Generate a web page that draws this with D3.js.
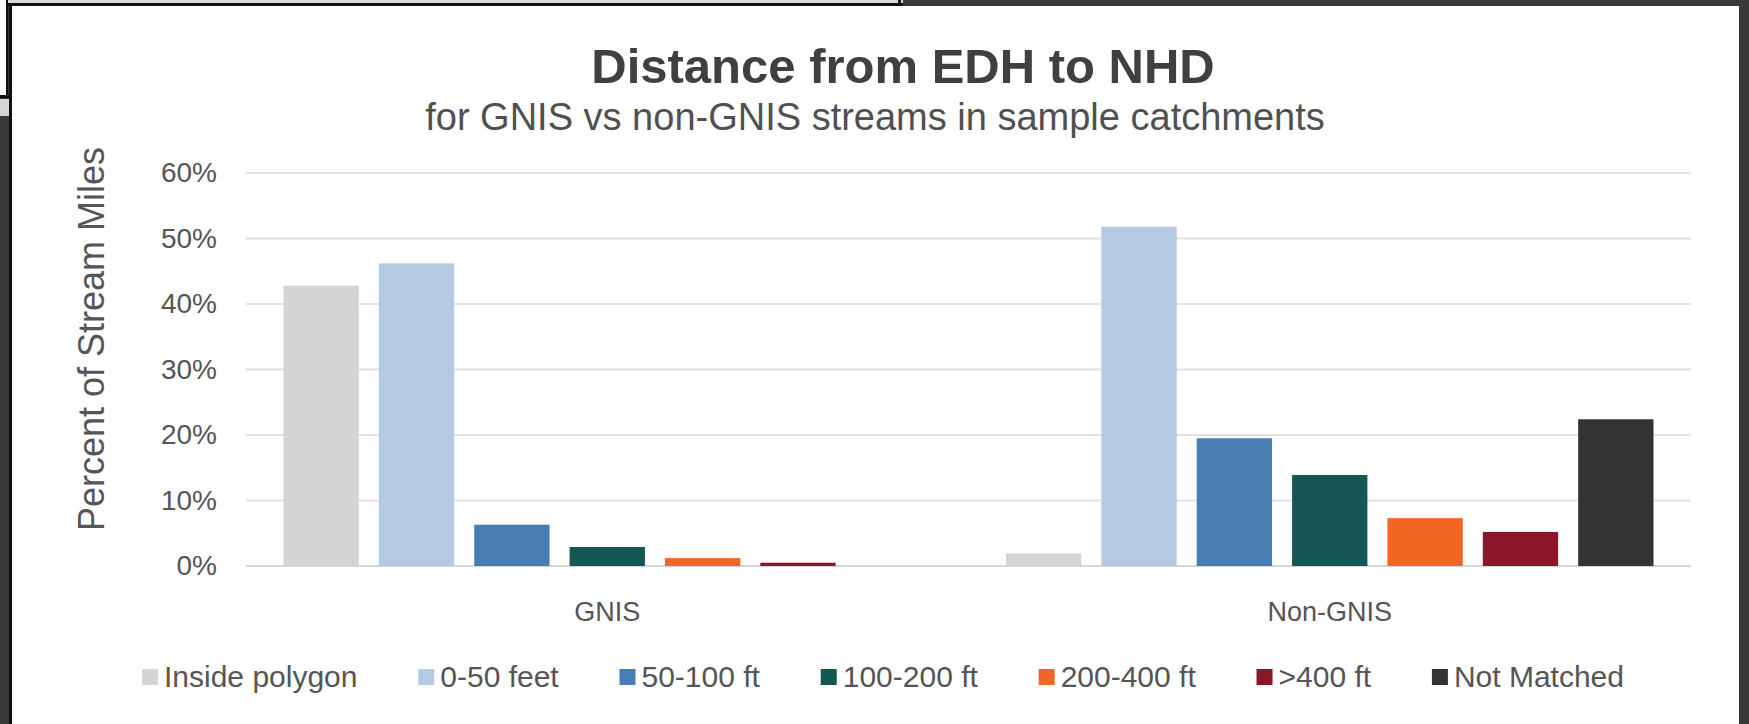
<!DOCTYPE html>
<html>
<head>
<meta charset="utf-8">
<script src="https://cdn.jsdelivr.net/npm/d3@7"></script>
<style>
  body { margin: 0; background: #3a3a3a; }
  svg { display: block; font-family: "Liberation Sans", Arial, sans-serif; }
</style>
</head>
<body>
<svg width="1749" height="724"></svg>
<script>
const categories = ["GNIS", "Non-GNIS"];
const seriesNames = ["Inside polygon", "0-50 feet", "50-100 ft", "100-200 ft", "200-400 ft", ">400 ft", "Not Matched"];
const gnisValues = [42.8, 46.2, 6.3, 2.9, 1.2, 0.5, 0];
const nonGnisValues = [1.9, 51.8, 19.5, 13.9, 7.3, 5.2, 22.4];
const yTicks = [0, 10, 20, 30, 40, 50, 60];
const colors = ["#d4d4d4", "#b4cae2", "#477db2", "#145753", "#f26522", "#8b1628", "#333333"];

const valuesByCategory = { "GNIS": gnisValues, "Non-GNIS": nonGnisValues };

const svg = d3.select("svg");

// screenshot frame around the chart
svg.append("rect").attr("x", 0).attr("y", 0).attr("width", 1749).attr("height", 724).attr("fill", "#3a3a3a");
svg.append("rect").attr("x", 0).attr("y", 0).attr("width", 903).attr("height", 6).attr("fill", "#d8d8d8");
svg.append("rect").attr("x", 0).attr("y", 3).attr("width", 903).attr("height", 3).attr("fill", "#111");
svg.append("rect").attr("x", 898).attr("y", 0).attr("width", 3).attr("height", 6).attr("fill", "#111");
svg.append("rect").attr("x", 0).attr("y", 0).attr("width", 8).attr("height", 96).attr("fill", "#fff");
svg.append("rect").attr("x", 6).attr("y", 0).attr("width", 2).attr("height", 97).attr("fill", "#111");
svg.append("rect").attr("x", 0).attr("y", 95).attr("width", 9).attr("height", 3).attr("fill", "#111");
svg.append("rect").attr("x", 0).attr("y", 99).attr("width", 9).attr("height", 17).attr("fill", "#d6d6d6");
svg.append("rect").attr("x", 9).attr("y", 5).attr("width", 3).attr("height", 719).attr("fill", "#111");
svg.append("rect").attr("x", 12).attr("y", 6).attr("width", 1727).attr("height", 718).attr("fill", "#fff");

const plotLeft = 246, plotRight = 1691, plotTop = 173, plotBottom = 566;

const x0 = d3.scaleBand().domain(categories).range([plotLeft, plotRight]).padding(0);
const x1 = d3.scaleBand().domain(seriesNames)
  .range([37.5, x0.bandwidth() - 37.5]).paddingInner(0.21).paddingOuter(0);
const y = d3.scaleLinear().domain([0, 60]).range([plotBottom, plotTop]);

// gridlines
svg.append("g").selectAll("line").data(yTicks).join("line")
  .attr("x1", plotLeft).attr("x2", plotRight)
  .attr("y1", d => y(d)).attr("y2", d => y(d))
  .attr("stroke", d => d === 0 ? "#d6d6d6" : "#e2e2e2").attr("stroke-width", 2);

// y axis labels
const yAxis = svg.append("g").attr("transform", `translate(${plotLeft},0)`)
  .call(d3.axisLeft(y).tickValues(yTicks).tickFormat(d => d + "%").tickSize(0).tickPadding(29));
yAxis.select(".domain").remove();
yAxis.selectAll("text").attr("font-size", 28).attr("fill", "#555").attr("font-family", "Liberation Sans");

// bars
const groups = svg.append("g").selectAll("g").data(categories).join("g")
  .attr("transform", d => `translate(${x0(d)},0)`);
groups.selectAll("rect")
  .data(c => seriesNames.map((s, i) => ({ s, i, v: valuesByCategory[c][i] })))
  .join("rect")
  .attr("x", d => x1(d.s))
  .attr("width", x1.bandwidth())
  .attr("y", d => y(d.v))
  .attr("height", d => y(0) - y(d.v))
  .attr("fill", d => colors[d.i]);

// x axis labels
const xAxis = svg.append("g").attr("transform", `translate(0,${plotBottom})`)
  .call(d3.axisBottom(x0).tickSize(0).tickPadding(36));
xAxis.select(".domain").remove();
xAxis.selectAll("text").attr("font-size", 27).attr("fill", "#555").attr("font-family", "Liberation Sans");

// titles
svg.append("text").attr("x", 903).attr("y", 83).attr("text-anchor", "middle")
  .attr("font-size", 49).attr("font-weight", "bold").attr("fill", "#404040")
  .text("Distance from EDH to NHD");
svg.append("text").attr("x", 875).attr("y", 130).attr("text-anchor", "middle")
  .attr("font-size", 38).attr("fill", "#505050")
  .text("for GNIS vs non-GNIS streams in sample catchments");

svg.append("text")
  .attr("transform", "translate(104,339) rotate(-90)")
  .attr("text-anchor", "middle").attr("font-size", 36).attr("fill", "#555")
  .text("Percent of Stream Miles");

// legend, spread between measured ends
const legendLeft = 142, legendRight = 1624, legendY = 677;
const legend = svg.append("g");
const items = legend.selectAll("g").data(seriesNames).join("g");
items.append("rect").attr("width", 16).attr("height", 16).attr("y", legendY - 8)
  .attr("fill", (d, i) => colors[i]);
items.append("text").attr("x", 22).attr("y", legendY + 10)
  .attr("font-size", 30).attr("fill", "#555").text(d => d);
const widths = [];
items.each(function () { widths.push(22 + d3.select(this).select("text").node().getComputedTextLength()); });
const gap = (legendRight - legendLeft - d3.sum(widths)) / (widths.length - 1);
let lx = legendLeft;
items.attr("transform", (d, i) => { const t = `translate(${lx},0)`; lx += widths[i] + gap; return t; });
</script>
</body>
</html>
